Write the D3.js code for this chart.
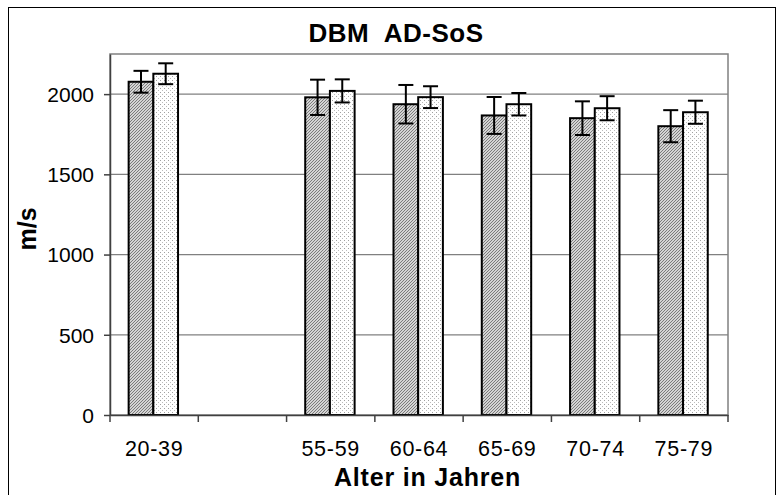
<!DOCTYPE html>
<html><head><meta charset="utf-8">
<script src="https://cdn.jsdelivr.net/npm/d3@7"></script>
<style>html,body{margin:0;padding:0;background:#fff;overflow:hidden}</style>
</head><body>
<svg id="c" width="777" height="495"></svg>
<script>
const categories = ["20-39", "", "55-59", "60-64", "65-69", "70-74", "75-79"];
const seriesA = [2077, null, 1980, 1937, 1867, 1850, 1800];
const errA    = [68, null, 110, 120, 115, 105, 100];
const seriesB = [2127, null, 2020, 1981, 1937, 1912, 1887];
const errB    = [65, null, 72, 68, 70, 75, 72];
const yTicks = [0, 500, 1000, 1500, 2000];

const svg = d3.select("#c");
const font = "'Liberation Sans', Arial, sans-serif";
const m = {l: 110, t: 54, r: 728, b: 415};

const defs = svg.append("defs");
const pa = defs.append("pattern").attr("id","hatch").attr("patternUnits","userSpaceOnUse")
  .attr("width",3).attr("height",3);
pa.append("rect").attr("width",3).attr("height",3).attr("fill","#d4d4d4");
pa.append("path").attr("d","M-1,1 l2,-2 M0,3 l3,-3 M2,4 l2,-2").attr("stroke","#707070").attr("stroke-width",0.9);
const pb = defs.append("pattern").attr("id","dots").attr("patternUnits","userSpaceOnUse")
  .attr("width",4).attr("height",4);
pb.append("rect").attr("width",4).attr("height",4).attr("fill","#fff");
pb.append("rect").attr("x",0).attr("y",0).attr("width",1).attr("height",1).attr("fill","#a0a0a0");
pb.append("rect").attr("x",2).attr("y",2).attr("width",1).attr("height",1).attr("fill","#bcbcbc");

// outer frame
svg.append("rect").attr("x",8.5).attr("y",7.5).attr("width",767).attr("height",520)
  .attr("fill","none").attr("stroke","#000").attr("stroke-width",1);

const x = d3.scaleBand().domain(d3.range(categories.length)).range([m.l, m.r]).paddingInner(0).paddingOuter(0);
const y = d3.scaleLinear().domain([0, 2250]).range([m.b, m.t]);

// gridlines
svg.append("g").selectAll("line").data(yTicks.filter(d=>d>0)).join("line")
  .attr("x1",m.l).attr("x2",m.r).attr("y1",d=>y(d)).attr("y2",d=>y(d))
  .attr("stroke","#808080").attr("stroke-width",1.2);
// plot border
svg.append("rect").attr("x",m.l).attr("y",m.t).attr("width",m.r-m.l).attr("height",m.b-m.t)
  .attr("fill","none").attr("stroke","#808080").attr("stroke-width",1.5);

const bw = 24.7;
const g = svg.append("g");
categories.forEach((c,i)=>{
  if (seriesA[i]==null) return;
  const cx = x(i) + x.bandwidth()/2 - 0.8;
  const bars = [[seriesA[i], errA[i], "url(#hatch)", cx-bw], [seriesB[i], errB[i], "url(#dots)", cx]];
  bars.forEach(([v,e,f,x0])=>{
    g.append("rect").attr("x",x0).attr("y",y(v)).attr("width",bw).attr("height",y(0)-y(v))
      .attr("fill",f).attr("stroke","#000").attr("stroke-width",2);
  });
  bars.forEach(([v,e,f,x0])=>{
    const xc = x0 + bw/2;
    g.append("line").attr("x1",xc).attr("x2",xc).attr("y1",y(v+e)).attr("y2",y(v-e)).attr("stroke","#000").attr("stroke-width",2);
    [v+e, v-e].forEach(t=>g.append("line").attr("x1",xc-7.5).attr("x2",xc+7.5).attr("y1",y(t)).attr("y2",y(t)).attr("stroke","#000").attr("stroke-width",2));
  });
});

// y axis
const ya = svg.append("g").attr("transform",`translate(${m.l},0)`)
  .call(d3.axisLeft(y).tickValues(yTicks).tickFormat(d3.format("d")).tickSize(6).tickSizeOuter(0).tickPadding(10));
ya.select(".domain").attr("stroke","#404040").attr("stroke-width",1.5);
ya.selectAll(".tick line").attr("stroke","#404040").attr("stroke-width",1.5);
ya.selectAll("text").style("font-family",font).style("font-size","21px").attr("fill","#000").attr("dy","0.35em");

// x axis
const xa = svg.append("g").attr("transform",`translate(0,${m.b})`)
  .call(d3.axisBottom(x).tickFormat(i=>categories[i]).tickSize(0).tickPadding(26));
xa.select(".domain").attr("stroke","#404040").attr("stroke-width",1.5);
xa.selectAll("text").style("font-family",font).style("font-size","21.5px").style("letter-spacing","0.7px").attr("fill","#000");
svg.append("g").selectAll("line").data(d3.range(categories.length+1)).join("line")
  .attr("x1",i=>m.l + i*x.bandwidth()).attr("x2",i=>m.l + i*x.bandwidth())
  .attr("y1",m.b).attr("y2",m.b+7).attr("stroke","#404040").attr("stroke-width",1.5);

// titles
svg.append("text").attr("x",396).attr("y",41.5).attr("text-anchor","middle")
  .style("font-family",font).attr("font-weight","bold").style("font-size","26px").style("letter-spacing","0.5px")
  .attr("xml:space","preserve").text("DBM  AD-SoS");
svg.append("text").attr("x",427.5).attr("y",486).attr("text-anchor","middle")
  .style("font-family",font).attr("font-weight","bold").style("font-size","25px").style("letter-spacing","0.8px").text("Alter in Jahren");
svg.append("text").attr("transform","translate(36,229) rotate(-90)").attr("text-anchor","middle")
  .style("font-family",font).attr("font-weight","bold").style("font-size","25px").text("m/s");
</script>
</body></html>
